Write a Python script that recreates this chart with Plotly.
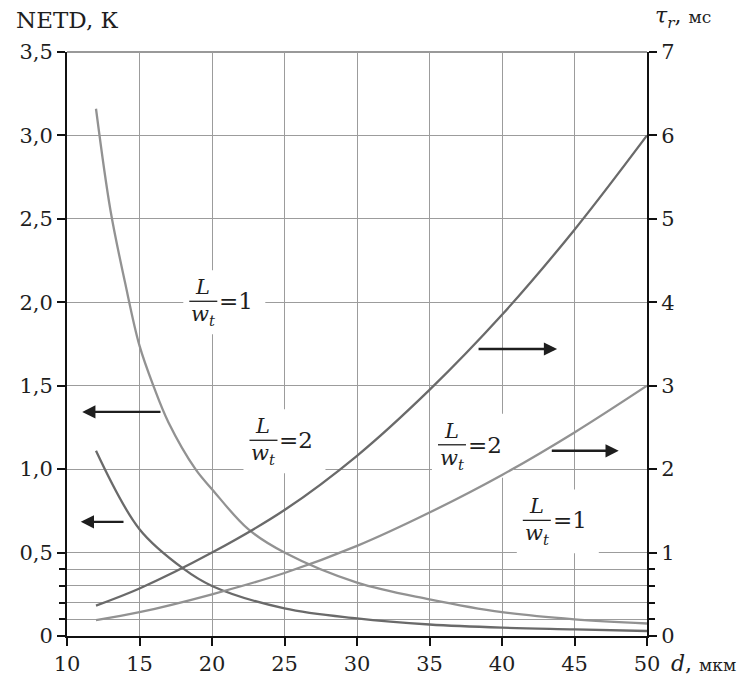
import plotly.graph_objects as go

# NETD, K  (left axis)
d_netd1 = [12, 13, 14, 15, 16, 17, 18.86, 20, 22.5, 25, 30, 35, 40, 45, 50]
netd1 = [3.16, 2.55, 2.12, 1.74, 1.49, 1.28, 1.0, 0.88, 0.64, 0.5, 0.32, 0.22, 0.143, 0.1, 0.075]   # L/wt = 1
d_netd2 = [12, 15, 18, 20, 25, 30, 35, 40, 45, 50]
netd2 = [1.11, 0.64, 0.405, 0.30, 0.165, 0.105, 0.069, 0.05, 0.04, 0.03]   # L/wt = 2

# tau_r, ms  (right axis)
d_tau = [12, 15, 20, 25, 30, 35, 40, 45, 50]
tau2 = [0.365, 0.57, 1.0, 1.51, 2.16, 2.95, 3.85, 4.87, 6.0]   # L/wt = 2
tau1 = [0.19, 0.285, 0.5, 0.755, 1.08, 1.48, 1.93, 2.44, 3.0]   # L/wt = 1

x_ticks = [10, 15, 20, 25, 30, 35, 40, 45, 50]
y_ticks = [0, 0.5, 1.0, 1.5, 2.0, 2.5, 3.0, 3.5]
y_ticktext = ["0", "0,5", "1,0", "1,5", "2,0", "2,5", "3,0", "3,5"]
y2_ticks = [0, 1, 2, 3, 4, 5, 6, 7]

DARK = "#6a6a6a"
LIGHT = "#929292"
GRID = "#9c9c9c"
SERIF = "DejaVu Serif"
INK = "#1e1e1e"

PX_X = 14.5    # pixels per micron on the x axis
PX_Y = 167.0   # pixels per K on the left axis

fig = go.Figure()
fig.add_trace(go.Scatter(x=d_netd1, y=netd1, mode="lines", line=dict(color=LIGHT, width=2.3, shape="spline")))
fig.add_trace(go.Scatter(x=d_netd2, y=netd2, mode="lines", line=dict(color=DARK, width=2.3, shape="spline")))
fig.add_trace(go.Scatter(x=d_tau, y=tau2, mode="lines", yaxis="y2", line=dict(color=DARK, width=2.3, shape="spline")))
fig.add_trace(go.Scatter(x=d_tau, y=tau1, mode="lines", yaxis="y2", line=dict(color=LIGHT, width=2.3, shape="spline")))

# fraction labels L/w_t = n
def label(x, y, n):
    # white box hiding the grid (under the curves)
    fig.add_shape(type="rect", xref="x", yref="y", layer="between",
                  x0=x - 20 / PX_X, x1=x + 62 / PX_X, y0=y - 32 / PX_Y, y1=y + 32 / PX_Y,
                  fillcolor="white", line=dict(width=0))
    fig.add_annotation(x=x, y=y, xref="x", yref="y", text="<i>L</i><br><i>w<sub>t</sub></i>",
                       showarrow=False, font=dict(family=SERIF, size=21, color=INK),
                       xanchor="center", yanchor="middle", align="center", yshift=0)
    # fraction bar
    fig.add_shape(type="line", xref="x", yref="y", layer="above",
                  x0=x - 14 / PX_X, x1=x + 14 / PX_X, y0=y + 1 / PX_Y, y1=y + 1 / PX_Y,
                  line=dict(color=INK, width=1.3))
    fig.add_annotation(x=x, y=y, xref="x", yref="y", text="=" + str(n), showarrow=False,
                       font=dict(family=SERIF, size=23, color=INK),
                       xanchor="left", yanchor="middle", xshift=14, yshift=1)

label(19.4, 2.0, 1)
label(23.55, 1.167, 2)
label(36.55, 1.14, 2)
label(42.4, 0.687, 1)

# arrows
arrows = [(16.55, 11.05, 1.343), (14.0, 10.95, 0.684), (38.28, 43.8, 1.72), (43.33, 48.05, 1.11)]
for tail, head, yy in arrows:
    fig.add_annotation(x=head, y=yy, ax=tail, ay=yy, xref="x", yref="y", axref="x", ayref="y",
                       text="", showarrow=True, arrowhead=2, arrowsize=1.1, arrowwidth=2.4,
                       arrowcolor=INK)

# axis titles
fig.add_annotation(xref="paper", yref="paper", x=0, y=1.0, xshift=-53, yshift=17,
                   text="NETD, К", showarrow=False, xanchor="left", yanchor="bottom",
                   font=dict(family=SERIF, size=23, color=INK))
fig.add_annotation(xref="paper", yref="paper", x=1.0, y=1.0, xshift=6, yshift=18,
                   text="<i>τ<sub>r</sub></i>, <span style='font-size:17px'>мс</span>",
                   showarrow=False, xanchor="left", yanchor="bottom",
                   font=dict(family=SERIF, size=22, color=INK))
fig.add_annotation(xref="paper", yref="paper", x=1.0, y=0, xshift=22, yshift=-13,
                   text="<i>d</i>, <span style='font-size:17px'>мкм</span>",
                   showarrow=False, xanchor="left", yanchor="top",
                   font=dict(family=SERIF, size=22, color=INK))

# top border of the grid
fig.add_shape(type="line", xref="paper", yref="paper", x0=0, x1=1, y0=1, y1=1,
              line=dict(color="#777", width=1.5), layer="below")

fig.update_layout(
    width=748, height=676,
    margin=dict(l=67, r=101, t=52, b=40, autoexpand=False),
    paper_bgcolor="white", plot_bgcolor="white",
    showlegend=False,
    font=dict(family=SERIF, size=21, color=INK),
    xaxis=dict(range=[10, 50], tickvals=x_ticks, showgrid=True, gridcolor=GRID, gridwidth=1.2,
               showline=True, linecolor="#111", linewidth=2, ticks="outside", ticklen=8,
               tickwidth=2, tickcolor="#111", zeroline=False, automargin=False),
    yaxis=dict(range=[0, 3.5], tickvals=y_ticks, ticktext=y_ticktext, showgrid=True,
               gridcolor=GRID, gridwidth=1.2, showline=True, linecolor="#111", linewidth=2,
               ticks="outside", ticklen=8, tickwidth=2, tickcolor="#111", zeroline=False,
               automargin=False,
               minor=dict(tickvals=[0.1, 0.2, 0.3, 0.4], showgrid=True, gridcolor=GRID,
                          gridwidth=1.2, ticks="outside", ticklen=6, tickwidth=1.5,
                          tickcolor="#111")),
    yaxis2=dict(range=[0, 7], tickvals=y2_ticks, overlaying="y", side="right", showgrid=False,
                showline=True, linecolor="#111", linewidth=2, ticks="outside", ticklen=8,
                tickwidth=2, tickcolor="#111", zeroline=False, automargin=False,
                minor=dict(tickvals=[0.2, 0.4, 0.6, 0.8], ticks="outside", ticklen=6,
                           tickwidth=1.5, tickcolor="#111")),
)

fig.write_html("out.html", config={"displayModeBar": False},
               post_script="document.body.style.margin='0';")
